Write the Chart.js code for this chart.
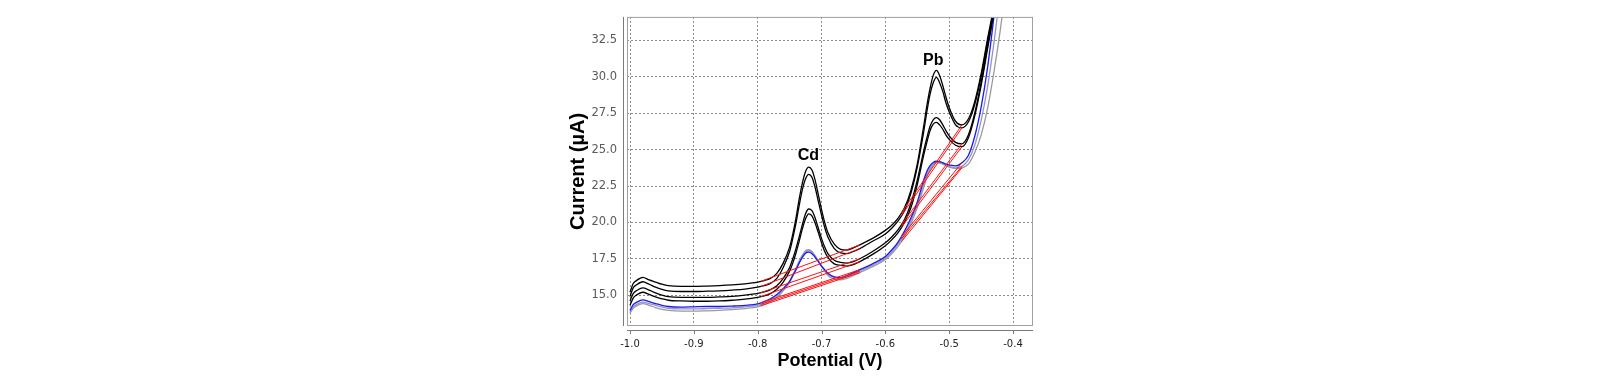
<!DOCTYPE html>
<html><head><meta charset="utf-8">
<script src="https://cdn.jsdelivr.net/npm/chart.js@4.4.1/dist/chart.umd.min.js"></script>
<style>html,body{margin:0;padding:0;background:#fff}#wrap{width:1600px;height:380px;position:relative}</style>
</head><body><div id="wrap"><canvas id="c"></canvas></div>
<script>
// ---- data ----
const potential = [
  -1.0, -0.995, -0.99, -0.98, -0.97, -0.96, -0.95, -0.94, -0.92, -0.90,
  -0.88, -0.86, -0.84, -0.82, -0.80, -0.79, -0.78, -0.77, -0.76, -0.75,
  -0.745, -0.74, -0.735, -0.73, -0.725, -0.72, -0.715, -0.71, -0.705, -0.70,
  -0.695, -0.69, -0.68, -0.67, -0.66, -0.65, -0.64, -0.62, -0.60, -0.59,
  -0.58, -0.57, -0.56, -0.55, -0.54, -0.535, -0.53, -0.525, -0.52, -0.515,
  -0.51, -0.505, -0.50, -0.49, -0.48, -0.47, -0.46, -0.45, -0.44, -0.43,
  -0.42, -0.41];
const currentB1 = [
  15.2, 15.8, 16.0, 16.22, 16.05, 15.9, 15.75, 15.65, 15.6, 15.6,
  15.62, 15.65, 15.7, 15.78, 15.9, 16.0, 16.15, 16.5, 17.2, 18.3,
  19.2, 20.3, 21.6, 22.7, 23.5, 23.8, 23.6, 22.9, 21.9, 20.9,
  20.0, 19.3, 18.5, 18.15, 18.1, 18.25, 18.45, 18.9, 19.45, 19.8,
  20.3, 21.0, 22.2, 24.0, 26.6, 28.0, 29.2, 30.1, 30.45, 30.1,
  29.4, 28.6, 27.9, 26.95, 26.7, 27.1, 28.3, 30.2, 32.6, 34.9,
  38.0, 41.5];
const currentB2 = [
  14.9, 15.5, 15.7, 15.92, 15.75, 15.55, 15.4, 15.3, 15.25, 15.25,
  15.27, 15.3, 15.35, 15.42, 15.55, 15.65, 15.8, 16.15, 16.9, 18.0,
  18.9, 19.95, 21.15, 22.25, 23.0, 23.3, 23.1, 22.4, 21.45, 20.5,
  19.65, 19.0, 18.2, 17.9, 17.85, 18.0, 18.2, 18.7, 19.2, 19.6,
  20.1, 20.8, 22.0, 23.8, 26.2, 27.6, 28.8, 29.6, 29.97, 29.6,
  29.0, 28.2, 27.6, 26.7, 26.5, 26.9, 28.1, 30.0, 32.4, 34.7,
  37.8, 41.2];
const currentB3 = [
  14.6, 15.1, 15.3, 15.5, 15.35, 15.15, 15.0, 14.9, 14.85, 14.85,
  14.85, 14.88, 14.92, 15.0, 15.12, 15.22, 15.38, 15.65, 16.15, 16.9,
  17.5, 18.2, 19.0, 19.85, 20.6, 20.92, 20.8, 20.3, 19.6, 18.9,
  18.3, 17.85, 17.4, 17.25, 17.2, 17.3, 17.5, 18.0, 18.6, 19.0,
  19.5, 20.2, 21.3, 22.9, 24.9, 25.8, 26.6, 27.05, 27.2, 27.05,
  26.7, 26.3, 25.95, 25.5, 25.4, 26.0, 27.5, 29.6, 32.1, 34.6,
  37.6, 41.0];
const currentB4 = [
  14.3, 14.8, 15.0, 15.2, 15.05, 14.88, 14.75, 14.65, 14.6, 14.58,
  14.58, 14.6, 14.65, 14.72, 14.85, 14.95, 15.1, 15.4, 15.9, 16.65,
  17.2, 17.9, 18.7, 19.55, 20.25, 20.59, 20.45, 19.95, 19.3, 18.6,
  18.0, 17.6, 17.15, 17.05, 17.0, 17.1, 17.3, 17.8, 18.4, 18.8,
  19.3, 20.0, 21.0, 22.6, 24.6, 25.5, 26.3, 26.75, 26.87, 26.7,
  26.4, 26.0, 25.7, 25.3, 25.2, 25.8, 27.3, 29.4, 31.9, 34.4,
  37.4, 40.8];
const currentBlue = [
  13.95, 14.35, 14.5, 14.68, 14.55, 14.42, 14.3, 14.22, 14.18, 14.2,
  14.22, 14.22, 14.25, 14.3, 14.4, 14.55, 14.75, 15.05, 15.45, 15.95,
  16.35, 16.75, 17.2, 17.6, 17.88, 17.96, 17.85, 17.6, 17.3, 17.0,
  16.75, 16.5, 16.25, 16.2, 16.35, 16.55, 16.75, 17.15, 17.65, 18.1,
  18.65, 19.4, 20.3, 21.4, 22.9, 23.5, 23.9, 24.12, 24.2, 24.18,
  24.1, 24.0, 23.95, 23.88, 24.1, 24.6, 25.9, 27.9, 30.6, 34.1,
  38.0, 42.0];
const currentLavender = [
  13.85, 14.2, 14.35, 14.52, 14.42, 14.3, 14.18, 14.1, 14.05, 14.05,
  14.07, 14.1, 14.12, 14.2, 14.3, 14.45, 14.65, 14.95, 15.4, 15.95,
  16.4, 16.85, 17.35, 17.75, 18.05, 18.12, 18.0, 17.7, 17.35, 17.0,
  16.7, 16.45, 16.2, 16.15, 16.25, 16.45, 16.65, 17.05, 17.55, 17.95,
  18.5, 19.2, 20.1, 21.2, 22.6, 23.3, 23.75, 24.05, 24.15, 24.12,
  24.05, 23.95, 23.85, 23.75, 23.85, 24.3, 25.3, 27.0, 29.3, 32.3,
  35.8, 39.5];
const currentGray = [
  13.75, 14.1, 14.25, 14.42, 14.3, 14.15, 14.02, 13.95, 13.9, 13.9,
  13.92, 13.95, 14.0, 14.08, 14.2, 14.35, 14.55, 14.85, 15.3, 15.85,
  16.3, 16.75, 17.25, 17.65, 17.95, 18.05, 17.95, 17.7, 17.35, 17.0,
  16.65, 16.35, 16.1, 16.05, 16.15, 16.35, 16.55, 16.95, 17.45, 17.85,
  18.35, 19.0, 19.9, 21.0, 22.4, 23.1, 23.6, 23.95, 24.1, 24.08,
  24.0, 23.9, 23.8, 23.7, 23.75, 24.0, 24.8, 26.0, 27.8, 30.3,
  33.2, 36.6];

// peak baselines (start/end potential, current at each end, one row per curve)
const cdBaseX = [-0.795, -0.64];
const cdBaseY = [[15.95, 18.45], [15.6, 18.2], [15.17, 17.5], [14.9, 17.3], [14.47, 16.75], [14.37, 16.65], [14.27, 16.55]];
const pbBaseX = [-0.575, -0.48];
const pbBaseY = [[20.65, 26.7], [20.45, 26.5], [19.85, 25.4], [19.65, 25.2], [19.0, 24.1], [18.85, 23.85], [18.67, 23.75]];

const xTicks = [-1.0, -0.9, -0.8, -0.7, -0.6, -0.5, -0.4];
const yTicks = [15.0, 17.5, 20.0, 22.5, 25.0, 27.5, 30.0, 32.5];
const xRange = [-1.0047, -0.3687];
const yRange = [12.88, 34.12];
const peakNames = ['Cd', 'Pb'];
const peakNameX = [-0.7205, -0.525];
const peakNameY = [24.6, 31.15];

// ---- build ----
const curves = [currentB1, currentB2, currentB3, currentB4, currentBlue, currentLavender, currentGray];
const curveColors = ['#000', '#000', '#000', '#000', '#1818f0', '#9494c8', '#9a9a9a'];
const toPts = arr => potential.map((p, i) => ({x: p, y: arr[i]}));
const datasets = [];
curves.forEach((c, i) => datasets.push({
  data: toPts(c), borderColor: curveColors[i], borderWidth: 1.3,
  cubicInterpolationMode: 'monotone', pointRadius: 0, order: 10 + i
}));
cdBaseY.forEach(r => datasets.push({data: [{x: cdBaseX[0], y: r[0]}, {x: cdBaseX[1], y: r[1]}], borderColor: '#ff1010', borderWidth: 1, pointRadius: 0, order: 1}));
pbBaseY.forEach(r => datasets.push({data: [{x: pbBaseX[0], y: r[0]}, {x: pbBaseX[1], y: r[1]}], borderColor: '#ff1010', borderWidth: 1, pointRadius: 0, order: 1}));

const frame = {
  id: 'frame',
  afterDraw(chart) {
    const {ctx, chartArea: a, scales: {x, y}} = chart;
    ctx.save();
    ctx.lineWidth = 1;
    ctx.strokeStyle = '#a0a0a0';
    ctx.strokeRect(a.left + 0.5, a.top + 0.5, a.right - a.left - 1, a.bottom - a.top - 1);
    ctx.strokeStyle = '#7a7a7a';
    ctx.beginPath();
    ctx.moveTo(a.left - 3.5, a.top); ctx.lineTo(a.left - 3.5, a.bottom);
    ctx.moveTo(a.left, a.bottom + 4.5); ctx.lineTo(a.right, a.bottom + 4.5);
    xTicks.forEach(v => { const px = Math.round(x.getPixelForValue(v)) + 0.5; ctx.moveTo(px, a.bottom + 4.5); ctx.lineTo(px, a.bottom + 8); });
    ctx.stroke();
    ctx.fillStyle = '#000';
    ctx.font = 'bold 16px "Liberation Sans", Arial, sans-serif';
    ctx.textAlign = 'center'; ctx.textBaseline = 'middle';
    peakNames.forEach((t, i) => ctx.fillText(t, x.getPixelForValue(peakNameX[i]), y.getPixelForValue(peakNameY[i])));
    ctx.restore();
  }
};

new Chart(document.getElementById('c'), {
  type: 'line',
  data: {datasets},
  plugins: [frame],
  options: {
    responsive: true, maintainAspectRatio: false, animation: false,
    layout: {padding: {left: 566, right: 567, top: 8, bottom: 4}},
    plugins: {legend: {display: false}, tooltip: {enabled: false}},
    scales: {
      x: {
        type: 'linear', min: xRange[0], max: xRange[1],
        afterBuildTicks: s => { s.ticks = xTicks.map(v => ({value: v})); },
        afterFit: s => { s.height = 50; },
        grid: {color: '#8a8a8a', drawTicks: false, lineWidth: 1},
        border: {display: false, dash: [2, 2]},
        ticks: {padding: 12, color: '#222', font: {family: '"DejaVu Sans", sans-serif', size: 10}, callback: v => Number(v).toFixed(1), maxRotation: 0, autoSkip: false},
        title: {display: true, text: 'Potential (V)', color: '#000', font: {family: '"Liberation Sans", Arial, sans-serif', size: 18, weight: 'bold'}, padding: {top: 0, bottom: 4}}
      },
      y: {
        type: 'linear', min: yRange[0], max: yRange[1],
        afterBuildTicks: s => { s.ticks = yTicks.map(v => ({value: v})); },
        afterFit: s => { s.width = 61; },
        grid: {color: '#8a8a8a', drawTicks: false, lineWidth: 1},
        border: {display: false, dash: [2, 2]},
        ticks: {padding: 10, color: '#5a5a5a', font: {family: '"DejaVu Sans", sans-serif', size: 11.5}, callback: v => Number(v).toFixed(1), autoSkip: false},
        title: {display: true, text: 'Current (µA)', color: '#000', font: {family: '"Liberation Sans", Arial, sans-serif', size: 20, weight: 'bold'}, padding: {top: 0, bottom: 0}}
      }
    }
  }
});
</script>
</body></html>
